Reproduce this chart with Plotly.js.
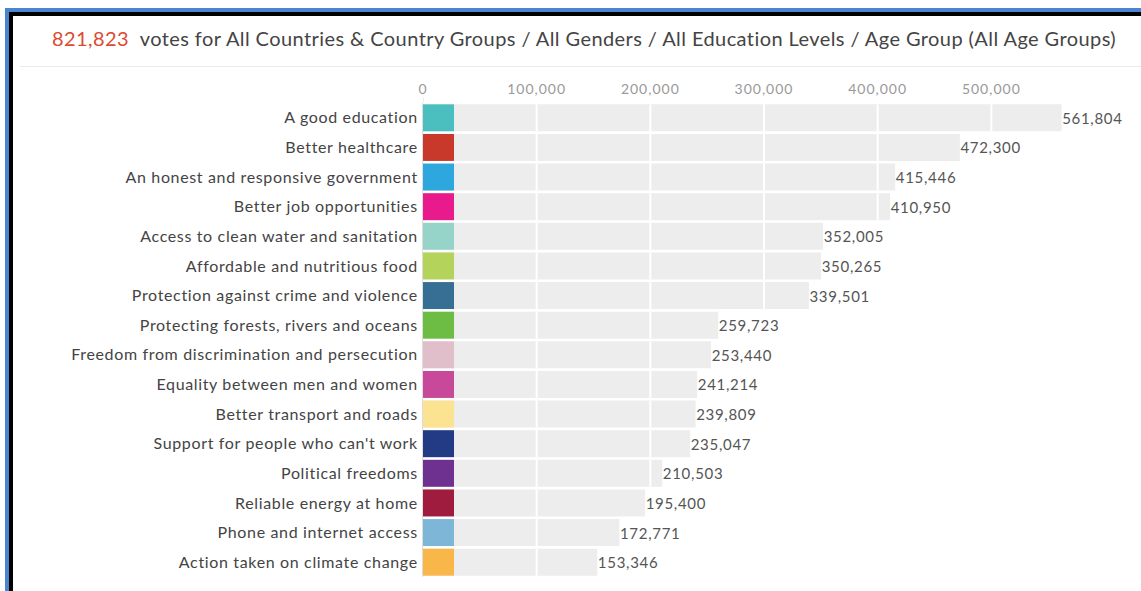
<!DOCTYPE html>
<html>
<head>
<meta charset="utf-8">
<script src="https://cdn.plot.ly/plotly-3.0.1.min.js"></script>
<style>
  html, body { margin:0; padding:0; background:#fff; }
  #wrap { position:relative; width:1141px; height:591px; overflow:hidden; }
  #chart { position:absolute; left:0; top:0; width:1141px; height:591px; }
  .frame-blue { position:absolute; left:5px; top:8px; width:1200px; height:700px; border-left:4px solid #4a86d0; border-top:4px solid #4a86d0; pointer-events:none; }
  .frame-black { position:absolute; left:9px; top:12px; width:1200px; height:700px; border-left:4px solid #000; border-top:4px solid #000; pointer-events:none; }
  .sep { position:absolute; left:20px; top:66px; width:1121px; height:1px; background:#eaeaea; pointer-events:none; }
  #chart .gtitle { letter-spacing: 0.42px; }
  #chart .ytick text { letter-spacing: 0.65px; }
  #chart .xtick text { letter-spacing: 1px; }
  #chart text.bartext { letter-spacing: 0.7px; }
</style>
</head>
<body>
<div id="wrap">
  <div id="chart"></div>
  <div class="sep"></div>
  <div class="frame-blue"></div>
  <div class="frame-black"></div>
</div>
<script>
const categories = [
  "A good education",
  "Better healthcare",
  "An honest and responsive government",
  "Better job opportunities",
  "Access to clean water and sanitation",
  "Affordable and nutritious food",
  "Protection against crime and violence",
  "Protecting forests, rivers and oceans",
  "Freedom from discrimination and persecution",
  "Equality between men and women",
  "Better transport and roads",
  "Support for people who can't work",
  "Political freedoms",
  "Reliable energy at home",
  "Phone and internet access",
  "Action taken on climate change"
];
const votes = [561804, 472300, 415446, 410950, 352005, 350265, 339501, 259723, 253440, 241214, 239809, 235047, 210503, 195400, 172771, 153346];
const colors = ["#4bbfbf", "#c8392b", "#2ea6de", "#e91a8c", "#96d3c8", "#b3d35a", "#366f93", "#6dbd45", "#e0bfcb", "#c8489a", "#fbe391", "#223b84", "#6e318f", "#a01c3f", "#7eb6d8", "#f9b74a"];
const tickValues = [0, 100000, 200000, 300000, 400000, 500000];
const totalVotes = "821,823";
const titleRest = "votes for All Countries & Country Groups / All Genders / All Education Levels / Age Group (All Age Groups)";

const FONT = "Lato, 'Open Sans', sans-serif";
const swatchWidth = 27300; // visual swatch size in axis units
const barGap = 0.09;
const half = (1 - barGap) / 2;

const greyBars = {
  type: "bar", orientation: "h",
  y: categories, x: votes,
  marker: { color: "#ededed", line: { width: 0 } },
  text: votes.map(v => v.toLocaleString("en-US")),
  textposition: "outside",
  textfont: { family: FONT, size: 15, color: "#555" },
  cliponaxis: false,
  hoverinfo: "none"
};
const swatches = {
  type: "bar", orientation: "h",
  y: categories, x: categories.map(() => swatchWidth),
  marker: { color: colors, line: { width: 0 } },
  hoverinfo: "none"
};

// white grid lines drawn over the grey bars only
const shapes = [];
tickValues.slice(1).forEach(t => {
  votes.forEach((v, i) => {
    if (v > t) {
      shapes.push({ type: "line", xref: "x", yref: "y", x0: t, x1: t, y0: i - half, y1: i + half,
        line: { color: "#ffffff", width: 2 }, layer: "above" });
    }
  });
});
// short extension of the zero line above the plot area
shapes.push({ type: "line", xref: "x", yref: "paper", x0: 0, x1: 0, y0: 1, y1: 1.013,
  line: { color: "#dddddd", width: 1 }, layer: "below" });

const layout = {
  width: 1141, height: 591,
  margin: { l: 423, r: 36, t: 103, b: 14, pad: 0 },
  paper_bgcolor: "#fff", plot_bgcolor: "#fff",
  barmode: "overlay", bargap: barGap,
  showlegend: false,
  font: { family: FONT },
  title: {
    text: '<span style="color:#dc4a32">' + totalVotes + '</span>\u00a0\u00a0' + titleRest,
    font: { family: FONT, size: 20, color: "#444" },
    x: 52 / 1141, xref: "container", xanchor: "left",
    y: 1 - 39 / 591, yref: "container", yanchor: "middle"
  },
  xaxis: {
    side: "top", range: [0, 600000],
    tickvals: tickValues, ticktext: tickValues.map(v => v.toLocaleString("en-US")),
    tickfont: { family: FONT, size: 14, color: "#999" },
    showgrid: false, zeroline: false, showline: false, ticks: "",
    ticklabelstandoff: 5, fixedrange: true
  },
  yaxis: {
    type: "category", autorange: "reversed",
    tickfont: { family: FONT, size: 16, color: "#444" },
    showgrid: false, zeroline: false,
    showline: true, linecolor: "#dddddd", linewidth: 1,
    ticks: "", ticklabelstandoff: 1, fixedrange: true
  },
  shapes: shapes
};

Plotly.newPlot("chart", [greyBars, swatches], layout, { displayModeBar: false, staticPlot: true });
</script>
</body>
</html>
